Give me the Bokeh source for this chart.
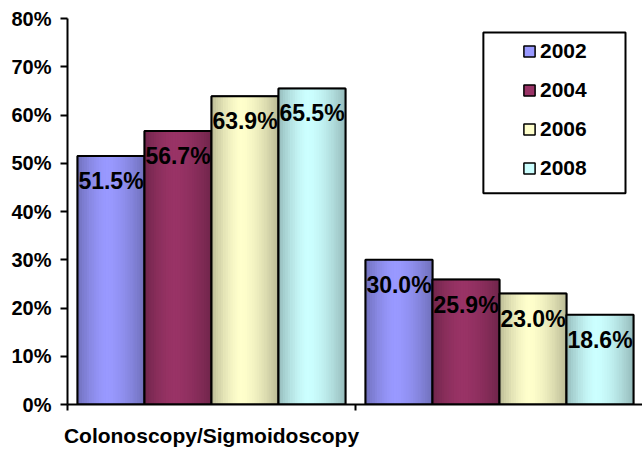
from bokeh.plotting import figure
from bokeh.models import (Range1d, FixedTicker, PrintfTickFormatter, Legend, LegendItem,
                          BoxAnnotation, ColumnDataSource)
from bokeh.core.properties import value
from bokeh.embed import file_html
from bokeh.resources import INLINE

# ---- data ----
categories = ["Colonoscopy/Sigmoidoscopy", ""]
years = ["2002", "2004", "2006", "2008"]
pct_2002 = [51.5, 30.0]
pct_2004 = [56.7, 25.9]
pct_2006 = [63.9, 23.0]
pct_2008 = [65.5, 18.6]
y_ticks = [0, 10, 20, 30, 40, 50, 60, 70, 80]

series = [pct_2002, pct_2004, pct_2006, pct_2008]
base_colors = [(153, 153, 255), (153, 51, 102), (255, 255, 204), (204, 255, 255)]

FONT = "Liberation Sans"


def hexc(rgb, f=1.0):
    return "#%02x%02x%02x" % tuple(max(0, min(255, int(round(c * f)))) for c in rgb)


p = figure(width=642, height=449, output_backend="svg", toolbar_location=None,
           x_range=Range1d(0, 575 / 288), y_range=Range1d(0, 80),
           min_border_left=67, min_border_right=0, min_border_top=18, min_border_bottom=44)
p.outline_line_color = None
p.xgrid.grid_line_color = None
p.ygrid.grid_line_color = None
p.background_fill_color = "white"
p.border_fill_color = "white"

bar_w = 67 / 288
N = 28
legend_items = []
for j, (vals, col) in enumerate(zip(series, base_colors)):
    xs = [i + 0.5 + (j - 1.5) * bar_w for i in range(len(categories))]
    base = p.vbar(x=xs, top=vals, width=bar_w, fill_color=hexc(col),
                  line_color="black", line_width=1.5)
    sx, st, sc = [], [], []
    for x, v in zip(xs, vals):
        for k in range(N):
            t = (k + 0.5) / N
            peak = 0.45
            d = (t - peak) / peak if t < peak else (t - peak) / (1 - peak)
            f = 1 - 0.27 * abs(d) ** 1.6
            sx.append(x - bar_w / 2 + t * bar_w)
            st.append(v)
            sc.append(hexc(col, f))
    src = ColumnDataSource(dict(x=sx, top=st, color=sc))
    p.vbar(x="x", top="top", width=bar_w / N * 1.2, fill_color="color",
           line_color=None, source=src)
    p.vbar(x=xs, top=vals, width=bar_w, fill_color=None, line_color="black", line_width=2)
    p.text(x=xs, y=vals, text=["%.1f%%" % v for v in vals], text_align="center",
           text_baseline="middle", y_offset=25, text_font=value(FONT),
           text_font_style="bold", text_font_size="23px", text_color="black")
    legend_items.append(LegendItem(label=years[j], renderers=[base]))

# y axis
p.yaxis.ticker = FixedTicker(ticks=y_ticks)
p.yaxis.formatter = PrintfTickFormatter(format="%d%%")
p.yaxis.major_tick_out = 7
p.yaxis.major_tick_in = 0
p.yaxis.minor_tick_out = 0
p.yaxis.minor_tick_in = 0
p.yaxis.axis_line_width = 2
p.yaxis.major_tick_line_width = 2
p.yaxis.major_label_standoff = 9
p.yaxis.major_label_text_font = FONT
p.yaxis.major_label_text_font_style = "bold"
p.yaxis.major_label_text_font_size = "20px"
p.yaxis.major_label_text_color = "black"

# x axis
p.xaxis.ticker = FixedTicker(ticks=[0.5, 1.5], minor_ticks=[0, 1, 2])
p.xaxis.major_label_overrides = {0.5: categories[0], 1.5: categories[1]}
p.xaxis.major_tick_out = 0
p.xaxis.major_tick_in = 0
p.xaxis.minor_tick_out = 6
p.xaxis.minor_tick_in = 0
p.xaxis.minor_tick_line_width = 2
p.xaxis.minor_tick_line_color = "black"
p.xaxis.axis_line_width = 2
p.xaxis.major_label_standoff = 13
p.xaxis.major_label_text_font = FONT
p.xaxis.major_label_text_font_style = "bold"
p.xaxis.major_label_text_font_size = "21px"
p.xaxis.major_label_text_color = "black"

# legend frame and legend
box = BoxAnnotation(left=1.444, right=1.9375, top=77.1, bottom=43.8,
                    fill_color="white", fill_alpha=1.0,
                    line_color="black", line_alpha=1.0, line_width=2)
p.add_layout(box)
legend = Legend(items=legend_items, location=(455, 224), padding=0, margin=0, spacing=15,
                glyph_width=14, glyph_height=14, label_height=24, label_standoff=4,
                border_line_color=None, background_fill_alpha=0,
                label_text_font=FONT, label_text_font_style="bold",
                label_text_font_size="21px", label_text_color="black")
p.add_layout(legend)

open("out.html", "w").write(file_html(p, INLINE))
